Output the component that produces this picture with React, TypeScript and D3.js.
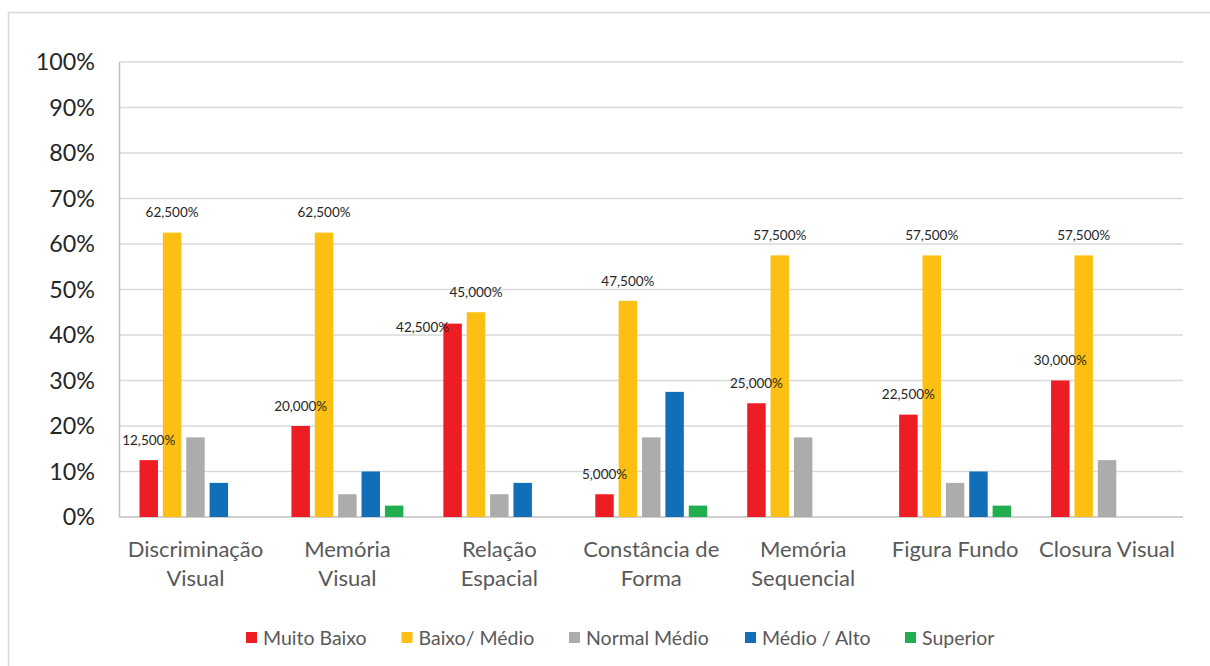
import React from "react";
import * as d3 from "d3";

const categories = [
  ["Discriminação", "Visual"],
  ["Memória", "Visual"],
  ["Relação", "Espacial"],
  ["Constância de", "Forma"],
  ["Memória", "Sequencial"],
  ["Figura Fundo"],
  ["Closura Visual"],
];
const seriesNames = ["Muito Baixo", "Baixo/ Médio", "Normal Médio", "Médio / Alto", "Superior"];
const muitoBaixo = [12.5, 20, 42.5, 5, 25, 22.5, 30];
const baixoMedio = [62.5, 62.5, 45, 47.5, 57.5, 57.5, 57.5];
const normalMedio = [17.5, 5, 5, 17.5, 17.5, 7.5, 12.5];
const medioAlto = [7.5, 10, 7.5, 27.5, 0, 10, 0];
const superior = [0, 2.5, 0, 2.5, 0, 2.5, 0];
const yTicks = [0, 10, 20, 30, 40, 50, 60, 70, 80, 90, 100];
const colors = ["#EE1D23", "#FCBF12", "#AEABAB", "#116EB8", "#21AE4E"];
const labeledSeries = [0, 1];

const series = [muitoBaixo, baixoMedio, normalMedio, medioAlto, superior];
const FONT = "Lato, 'Open Sans', sans-serif";

export default function App() {
  const left = 119.5, right = 1183, top = 62, bottom = 517;
  const x0 = d3.scaleBand<number>().domain(d3.range(categories.length)).range([left, right]).paddingInner(0).paddingOuter(0);
  const bw = x0.bandwidth();
  const clusterPad = 20;
  const x1 = d3.scaleBand<number>().domain(d3.range(series.length)).range([clusterPad, bw - clusterPad]).paddingInner(0.21).paddingOuter(0);
  const y = d3.scaleLinear().domain([0, 100]).range([bottom, top]);
  const fmt = (v: number) => d3.format(".3f")(v).replace(".", ",") + "%";

  const legendX = [246, 401.5, 569, 745, 905];

  return (
    <svg width={1210} height={666} style={{ position: "absolute", left: 0, top: 0, background: "#fff" }} fontFamily={FONT}>
      <rect x={8.5} y={12.5} width={1300} height={700} fill="#fff" stroke="#D9D9D9" strokeWidth={1.5} />
      {yTicks.map((t) => (
        <g key={t}>
          {t > 0 && <line x1={left} x2={right} y1={y(t)} y2={y(t)} stroke="#D9D9D9" strokeWidth={1.5} />}
          <text x={95} y={y(t)} dy="0.36em" textAnchor="end" fontSize={23.3} fill="#262626">{t}%</text>
        </g>
      ))}
      <line x1={left} x2={left} y1={top} y2={bottom} stroke="#BFBFBF" strokeWidth={1.5} />
      <line x1={left} x2={right} y1={bottom} y2={bottom} stroke="#BFBFBF" strokeWidth={1.5} />
      {categories.map((c, i) => (
        <g key={i}>
          {series.map((s, j) => {
            const v = s[i];
            if (!v) return null;
            return (
              <rect key={j} x={x0(i)! + x1(j)!} y={y(v)} width={x1.bandwidth()} height={bottom - y(v)} fill={colors[j]} />
            );
          })}
          {labeledSeries.map((j) => {
            const v = series[j][i];
            const cx = x0(i)! + x1(j)! + x1.bandwidth() / 2;
            let lx = cx, ly = y(v) - 20;
            if (j === 0 && Math.abs(baixoMedio[i] - v) < 5) {
              lx = cx - 30;
              ly = y(v) + 4;
            }
            return (
              <text key={"l" + j} x={lx} y={ly} dy="0.35em" textAnchor="middle" fontSize={13.5} fill="#262626">{fmt(v)}</text>
            );
          })}
          {c.map((line, k) => (
            <text key={"c" + k} x={x0(i)! + bw / 2} y={549.5 + k * 28.5} dy="0.36em" textAnchor="middle" fontSize={22} fill="#595959">{line}</text>
          ))}
        </g>
      ))}
      {seriesNames.map((n, j) => (
        <g key={n}>
          <rect x={legendX[j]} y={632} width={11} height={11} fill={colors[j]} />
          <text x={legendX[j] + 17} y={637.5} dy="0.36em" fontSize={19.5} fill="#595959">{n}</text>
        </g>
      ))}
    </svg>
  );
}
